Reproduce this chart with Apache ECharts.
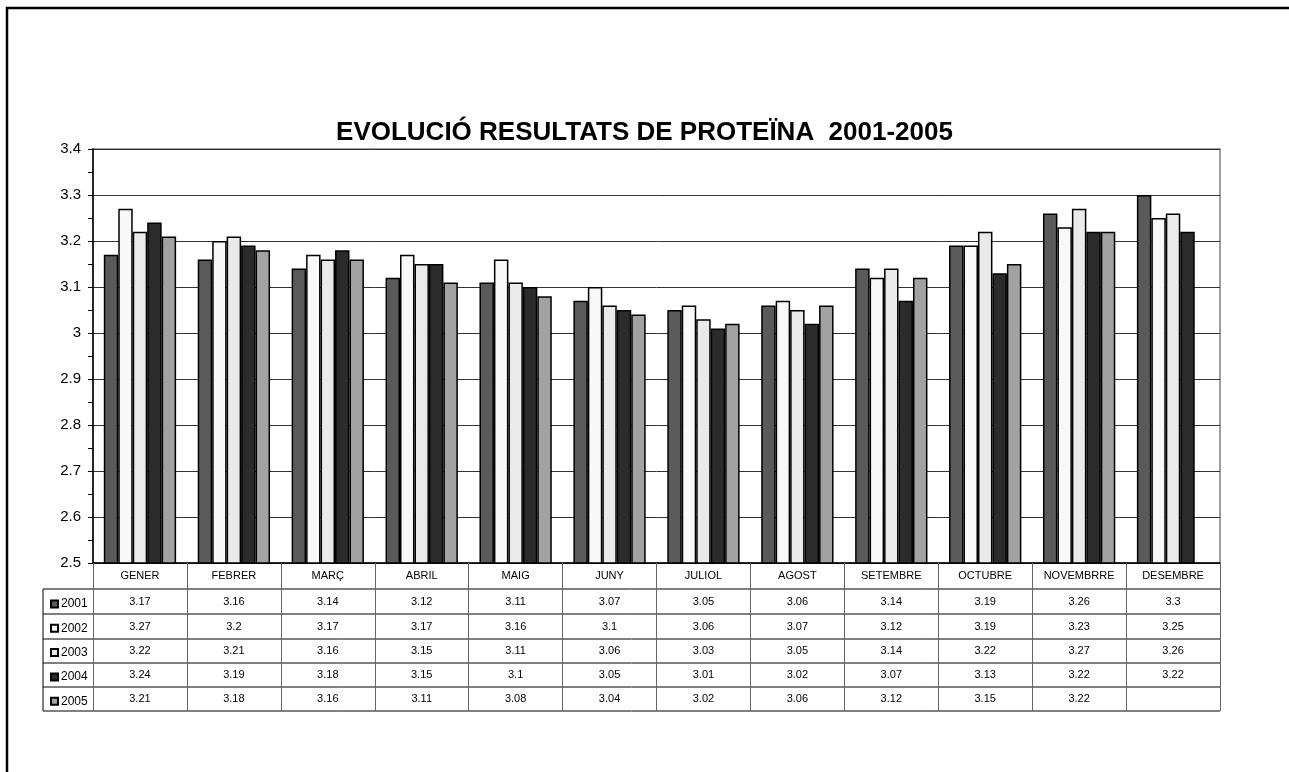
<!DOCTYPE html>
<html>
<head>
<meta charset="utf-8">
<script src="https://cdn.jsdelivr.net/npm/echarts@6/dist/echarts.min.js"></script>
<style>
  html, body { margin: 0; padding: 0; background: #fff; }
  #chart { width: 1289px; height: 772px; }
</style>
</head>
<body>
<div id="chart"></div>
<script>
// dades
const months = ["GENER", "FEBRER", "MARÇ", "ABRIL", "MAIG", "JUNY", "JULIOL", "AGOST", "SETEMBRE", "OCTUBRE", "NOVEMBRRE", "DESEMBRE"];
const years = ["2001", "2002", "2003", "2004", "2005"];
const v2001 = [3.17, 3.16, 3.14, 3.12, 3.11, 3.07, 3.05, 3.06, 3.14, 3.19, 3.26, 3.3];
const v2002 = [3.27, 3.2, 3.17, 3.17, 3.16, 3.1, 3.06, 3.07, 3.12, 3.19, 3.23, 3.25];
const v2003 = [3.22, 3.21, 3.16, 3.15, 3.11, 3.06, 3.03, 3.05, 3.14, 3.22, 3.27, 3.26];
const v2004 = [3.24, 3.19, 3.18, 3.15, 3.1, 3.05, 3.01, 3.02, 3.07, 3.13, 3.22, 3.22];
const v2005 = [3.21, 3.18, 3.16, 3.11, 3.08, 3.04, 3.02, 3.06, 3.12, 3.15, 3.22, null];
const values = [v2001, v2002, v2003, v2004, v2005];
const colors = ["#5a5a5a", "#f8f8f8", "#eaeaea", "#2b2b2b", "#a2a2a2"];

const font = 'Arial, "Liberation Sans", sans-serif';
const gridL = 93, gridT = 149, gridR = 1220, gridB = 563;
const tableL = 43, tableB = 711;
const rowLines = [589, 614, 639, 663, 687, 711];

const myCharts = echarts.init(document.getElementById("chart"));

let series = [];
values.forEach((data, i) => {
  series.push({
    name: years[i],
    type: "bar",
    data: data,
    barGap: "0%",
    barCategoryGap: "23%",
    itemStyle: {
      color: colors[i],
      borderColor: "#000",
      borderWidth: 1.5,
    },
  });
});

// files de la taula de dades: un eix per any
let xAxes = [
  {
    type: "category",
    data: months,
    axisLine: { show: true, lineStyle: { color: "#000", width: 1.5 } },
    axisTick: { show: true, length: tableB - gridB, lineStyle: { color: "#666" } },
    axisLabel: { color: "#000", fontSize: 11, fontFamily: font, margin: 13, verticalAlign: "middle" },
  },
];
values.forEach((data, i) => {
  let center = (rowLines[i] + rowLines[i + 1]) / 2;
  xAxes.push({
    type: "category",
    data: months,
    position: "bottom",
    offset: center - gridB,
    axisLine: { show: false },
    axisTick: { show: false },
    axisLabel: {
      color: "#000",
      fontSize: 11,
      fontFamily: font,
      margin: 0,
      verticalAlign: "middle",
      formatter: (v, idx) => (data[idx] == null ? "" : String(data[idx])),
    },
  });
});

let graphic = [
  {
    type: "rect",
    shape: { x: 7, y: 8, width: 1400, height: 900 },
    style: { fill: "none", stroke: "#000", lineWidth: 2.5 },
    silent: true,
  },
  {
    type: "line",
    shape: { x1: tableL, y1: rowLines[0], x2: tableL, y2: tableB },
    style: { stroke: "#000", lineWidth: 1 },
    silent: true,
  },
];
rowLines.forEach((y) => {
  graphic.push({
    type: "line",
    shape: { x1: tableL, y1: y, x2: gridR, y2: y },
    style: { stroke: "#000", lineWidth: 1 },
    silent: true,
  });
});

let options = {
  backgroundColor: "#fff",
  animation: false,
  textStyle: { fontFamily: font },
  title: {
    text: "EVOLUCIÓ RESULTATS DE PROTEÏNA  2001-2005",
    left: "center",
    top: 115,
    textStyle: { fontSize: 26, fontWeight: "bold", color: "#000", fontFamily: font },
  },
  legend: {
    orient: "vertical",
    left: 45,
    top: 593,
    itemWidth: 7,
    itemHeight: 7,
    itemGap: 12.3,
    icon: "rect",
    selectedMode: false,
    textStyle: { fontSize: 12, color: "#000", fontFamily: font, padding: [3, 0, 0, -2] },
    data: years,
  },
  grid: {
    left: gridL,
    top: gridT,
    right: 1289 - gridR,
    bottom: 772 - gridB,
    show: true,
    borderColor: "#808080",
    borderWidth: 1.5,
  },
  xAxis: xAxes,
  yAxis: {
    type: "value",
    min: 2.5,
    max: 3.4,
    interval: 0.1,
    axisLine: { show: true, lineStyle: { color: "#000", width: 1.5 } },
    axisTick: { show: true, length: 5, lineStyle: { color: "#000" } },
    minorTick: { show: true, splitNumber: 2, length: 5, lineStyle: { color: "#000" } },
    axisLabel: { color: "#000", fontSize: 15, fontFamily: font, margin: 12 },
    splitLine: { show: true, lineStyle: { color: "#333", width: 1 } },
  },
  graphic: graphic,
  series: series,
};
myCharts.setOption(options, true);
</script>
</body>
</html>
